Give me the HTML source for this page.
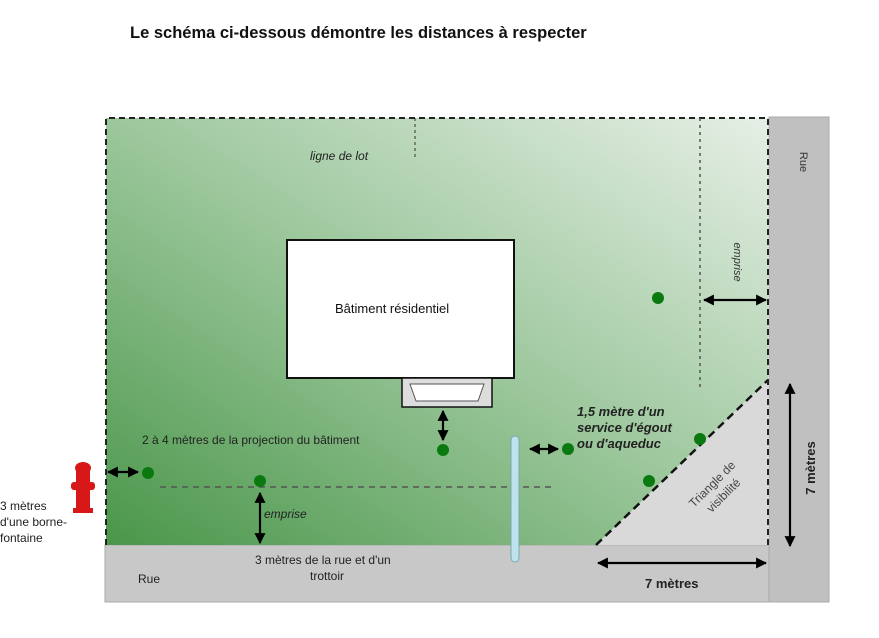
<!DOCTYPE html>
<html><head><meta charset="utf-8"><style>
body{margin:0;background:#fff;width:879px;height:633px;overflow:hidden}
svg text{font-family:"Liberation Sans",sans-serif}
</style></head><body>
<svg width="879" height="633" viewBox="0 0 879 633" xmlns="http://www.w3.org/2000/svg">
<defs>
<linearGradient id="g" x1="0" y1="1" x2="1" y2="0">
<stop offset="0" stop-color="#4a964a"/>
<stop offset="0.5" stop-color="#9cc79c"/>
<stop offset="1" stop-color="#e6efe6"/>
</linearGradient>
<marker id="a" viewBox="0 0 10 10" refX="9" refY="5" markerWidth="5" markerHeight="5" orient="auto-start-reverse"><path d="M0,0L10,5L0,10z" fill="#000"/></marker>
</defs>
<text x="130" y="38" font-size="16.5" font-weight="bold" fill="#111">Le schéma ci-dessous démontre les distances à respecter</text>
<rect x="105" y="545" width="724" height="57" fill="#c8c8c8" stroke="#aaa"/>
<rect x="769" y="117" width="60" height="485" fill="#c0c0c0" stroke="#aaa"/>
<rect x="106" y="118" width="662" height="427" fill="url(#g)"/>
<polygon points="596,545 768,380 768,545" fill="#d9d9d9"/>
<line x1="596" y1="545" x2="768" y2="380" stroke="#111" stroke-width="2.5" stroke-dasharray="8,5"/>
<path d="M106,545V118H768V545" fill="none" stroke="#222" stroke-width="2" stroke-dasharray="6,4"/>
<line x1="700" y1="118" x2="700" y2="388" stroke="#555" stroke-width="1.5" stroke-dasharray="3,4"/>
<line x1="415" y1="118" x2="415" y2="160" stroke="#333" stroke-width="1" stroke-dasharray="3,3"/>
<line x1="160" y1="487" x2="555" y2="487" stroke="#555" stroke-width="1.5" stroke-dasharray="6,5"/>
<text x="310" y="160" font-size="12" font-style="italic" fill="#222">ligne de lot</text>
<rect x="287" y="240" width="227" height="138" fill="#fff" stroke="#111" stroke-width="2"/>
<text x="335" y="313" font-size="13" fill="#111">Bâtiment résidentiel</text>
<polygon points="402,378 492,378 492,407 402,407" fill="#ddd" stroke="#111" stroke-width="1.5"/>
<polygon points="410,384 484,384 478,401 416,401" fill="#fff" stroke="#555"/>
<rect x="511" y="436" width="8" height="126" rx="4" fill="#bfe3ee" stroke="#7aa"/>
<g fill="#0a7a10">
<circle cx="148" cy="473" r="6"/><circle cx="260" cy="481" r="6"/><circle cx="443" cy="450" r="6"/>
<circle cx="568" cy="449" r="6"/><circle cx="649" cy="481" r="6"/><circle cx="700" cy="439" r="6"/><circle cx="658" cy="298" r="6"/>
</g>
<g stroke="#000" stroke-width="2.2" marker-start="url(#a)" marker-end="url(#a)">
<line x1="108" y1="472" x2="138" y2="472"/>
<line x1="443" y1="411" x2="443" y2="440"/>
<line x1="260" y1="493" x2="260" y2="543"/>
<line x1="530" y1="449" x2="558" y2="449"/>
<line x1="704" y1="300" x2="766" y2="300"/>
<line x1="790" y1="384" x2="790" y2="546"/>
<line x1="598" y1="563" x2="766" y2="563"/>
</g>
<text x="142" y="444" font-size="12" fill="#222">2 à 4 mètres de la projection du bâtiment</text>
<text x="264" y="518" font-size="12" font-style="italic" fill="#222">emprise</text>
<text x="255" y="564" font-size="12" fill="#222">3 mètres de la rue et d'un</text>
<text x="310" y="580" font-size="12" fill="#222">trottoir</text>
<text x="138" y="583" font-size="12" fill="#222">Rue</text>
<text x="0" y="510" font-size="12" fill="#222">3 mètres</text>
<text x="0" y="526" font-size="12" fill="#222">d'une borne-</text>
<text x="0" y="542" font-size="12" fill="#222">fontaine</text>
<g font-size="13" font-style="italic" font-weight="bold" fill="#222">
<text x="577" y="416">1,5 mètre d'un</text>
<text x="577" y="432">service d'égout</text>
<text x="577" y="448">ou d'aqueduc</text>
</g>
<text x="645" y="588" font-size="13" font-weight="bold" fill="#222">7 mètres</text>
<text transform="translate(815,468) rotate(-90)" font-size="13" font-weight="bold" fill="#222" text-anchor="middle">7 mètres</text>
<text transform="translate(800,162) rotate(90)" font-size="11" fill="#333" text-anchor="middle">Rue</text>
<text transform="translate(734,262) rotate(90)" font-size="11" font-style="italic" fill="#333" text-anchor="middle">emprise</text>
<g transform="translate(715,487) rotate(-45)" font-size="12" fill="#444" text-anchor="middle"><text x="0" y="0">Triangle de</text><text x="0" y="16">visibilité</text></g>
<g fill="#d81818">
<rect x="76" y="468" width="14" height="44" rx="3"/>
<ellipse cx="83" cy="468" rx="8" ry="6"/>
<rect x="71" y="482" width="24" height="8" rx="3"/>
<rect x="73" y="508" width="20" height="5"/>
</g>
</svg>
</body></html>
